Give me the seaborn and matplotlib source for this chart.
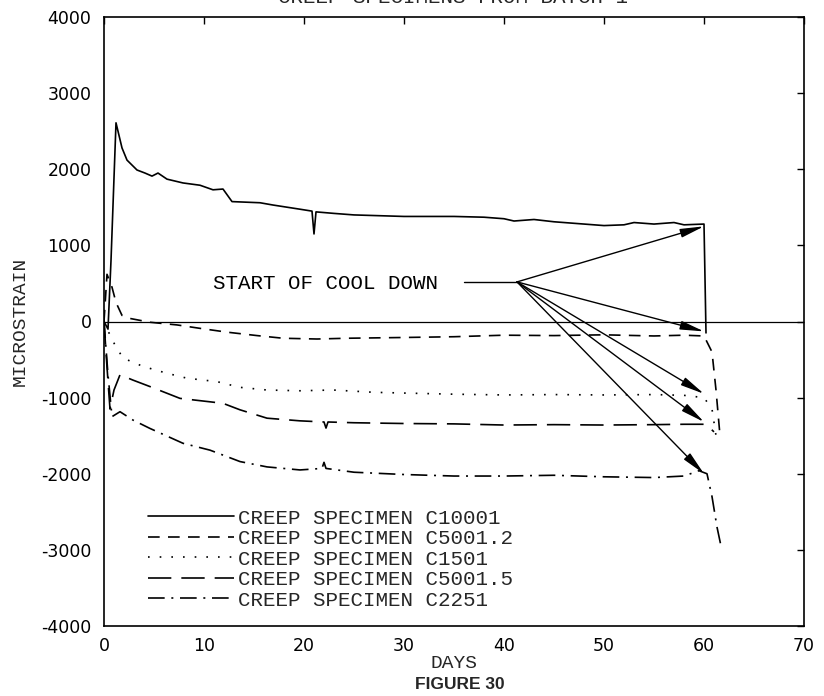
import matplotlib
matplotlib.use("Agg")
import matplotlib.pyplot as plt
import seaborn as sns
import pandas as pd

# Creep strain histories, batch 1 specimens (days, microstrain)
days_c10001 = [0, 0.4, 0.7, 1.2, 1.8, 2.3, 3.3, 4.1, 4.8, 5.4, 6.3, 7.9, 9.6, 10.9,
               11.9, 12.8, 15.6, 16.9, 19.6, 20.8, 21.0, 21.2, 23, 25, 30, 35, 38,
               40, 41, 43, 45, 47, 50, 52, 53, 55, 57, 58, 60, 60.2]
strain_c10001 = [0, -100, 800, 2610, 2280, 2120, 1990, 1950, 1910, 1950, 1870, 1820,
                 1790, 1730, 1740, 1575, 1560, 1530, 1475, 1450, 1150, 1440, 1420,
                 1400, 1380, 1380, 1370, 1350, 1320, 1340, 1310, 1290, 1260, 1270,
                 1300, 1280, 1300, 1270, 1280, -150]

days_c5001_2 = [0, 0.3, 0.8, 1.2, 1.8, 2.6, 4.6, 7.3, 9.6, 12.3, 15.3, 17.9, 21.3,
                24.3, 30, 35, 40, 45, 50, 55, 58, 60, 60.8, 61.2, 61.6]
strain_c5001_2 = [0, 620, 450, 250, 80, 40, -10, -45, -90, -140, -185, -220, -230,
                  -220, -210, -200, -180, -185, -175, -190, -180, -190, -400, -900,
                  -1500]

days_c1501 = [0, 0.5, 1.1, 1.9, 3.9, 6.3, 8.3, 11.3, 13.6, 16.3, 19.6, 22.9, 27, 30,
              35, 40, 45, 50, 55, 58, 60, 60.8, 61.2]
strain_c1501 = [0, -150, -310, -480, -590, -680, -745, -790, -865, -900, -910, -900,
                -930, -940, -955, -965, -960, -965, -960, -970, -1000, -1150, -1500]

days_c5001_5 = [0, 0.3, 0.6, 1.0, 1.6, 2.9, 4.6, 7.6, 10.6, 11.9, 13.6, 16.3, 19.6,
                22.0, 22.2, 22.4, 25, 30, 35, 40, 45, 50, 55, 58, 60, 60.6, 61.0]
strain_c5001_5 = [0, -600, -1150, -900, -700, -770, -855, -1010, -1055, -1075,
                  -1160, -1270, -1305, -1320, -1400, -1320, -1330, -1340, -1345,
                  -1360, -1355, -1360, -1355, -1350, -1350, -1400, -1450]

days_c2251 = [0, 0.4, 0.8, 1.6, 2.9, 4.6, 7.9, 10.6, 13.6, 16.3, 19.6, 21.8, 22.0,
              22.2, 25, 30, 35, 40, 45, 50, 55, 58, 59.5, 60.3, 60.8, 61.3, 61.7]
strain_c2251 = [0, -700, -1250, -1185, -1295, -1405, -1600, -1690, -1840, -1910,
                -1950, -1930, -1850, -1930, -1980, -2010, -2030, -2030, -2020,
                -2040, -2050, -2030, -1960, -2000, -2300, -2700, -2950]

labels = ["CREEP SPECIMEN C10001", "CREEP SPECIMEN C5001.2", "CREEP SPECIMEN C1501",
          "CREEP SPECIMEN C5001.5", "CREEP SPECIMEN C2251"]

# Cool-down annotation: start point and end of each curve
cool_start = (41.3, 520)
cool_targets_day = [60, 60, 60, 60, 60]
cool_targets_strain = [1250, -130, -950, -1320, -2000]

x_ticks = [0, 10, 20, 30, 40, 50, 60, 70]
y_ticks = [-4000, -3000, -2000, -1000, 0, 1000, 2000, 3000, 4000]

sns.set_theme(style="white")
plt.rcParams["font.family"] = ["DejaVu Sans"]
plt.rcParams["axes.unicode_minus"] = False
MONO = ["Liberation Mono", "DejaVu Sans Mono"]

fig = plt.figure(figsize=(8.24, 6.96), dpi=100)
ax = fig.add_axes([104 / 824, 1 - 626 / 696, 700 / 824, 609 / 696])

series = [
    (days_c10001, strain_c10001, "-"),
    (days_c5001_2, strain_c5001_2, (0, (7, 5))),
    (days_c1501, strain_c1501, (0, (1, 6))),
    (days_c5001_5, strain_c5001_5, (0, (14, 6))),
    (days_c2251, strain_c2251, (0, (10, 4, 1.2, 4))),
]
for (d, s, ls), lab in zip(series, labels):
    df = pd.DataFrame({"days": d, "microstrain": s})
    sns.lineplot(data=df, x="days", y="microstrain", ax=ax, color="black",
                 linewidth=1.2, linestyle=ls, label=lab, sort=False,
                 estimator=None)

ax.axhline(0, color="black", linewidth=0.9)

# cool-down label and arrows
ax.text(10.9, 500, "START OF COOL DOWN", fontsize=15, family=MONO,
        va="center", ha="left", color="black")
ax.plot([36.0, cool_start[0]], [cool_start[1], cool_start[1]], color="black",
        linewidth=1.0)
for td, ts in zip(cool_targets_day, cool_targets_strain):
    ax.annotate("", xy=(td, ts), xytext=cool_start,
                arrowprops=dict(arrowstyle="-|>,head_length=1.2,head_width=0.22",
                                color="black", lw=1.0, shrinkA=0, shrinkB=0))

ax.set_xlim(0, 70)
ax.set_ylim(-4000, 4000)
ax.set_xticks(x_ticks)
ax.set_yticks(y_ticks)
ax.tick_params(direction="in", length=5, width=1, top=True, right=True,
               labelsize=12.5, colors="black")
ax.tick_params(axis="y", pad=9)
ax.tick_params(axis="x", pad=8)
for sp in ax.spines.values():
    sp.set_color("black")
    sp.set_linewidth(1.2)

ax.set_xlabel("DAYS", fontsize=14, family=MONO)
ax.set_ylabel("MICROSTRAIN", fontsize=14, family=MONO)
ax.xaxis.set_label_coords(0.5, -0.048)
ax.yaxis.set_label_coords(-0.108, 0.5)

leg = ax.legend(loc="lower left", bbox_to_anchor=(0.063, 0.027), frameon=False,
                prop={"family": MONO, "size": 15}, handlelength=4.1,
                handletextpad=0.2, labelspacing=0.07, borderpad=0,
                borderaxespad=0)

fig.text(0.55, 1.004, "CREEP SPECIMENS FROM BATCH 1", fontsize=15, family=MONO,
         ha="center", va="center")
fig.text(0.558, 0.017, "FIGURE 30", fontsize=12.5, fontweight="bold",
         family=["Liberation Sans", "DejaVu Sans"], ha="center", va="center")

fig.savefig("out.png", dpi=100)
